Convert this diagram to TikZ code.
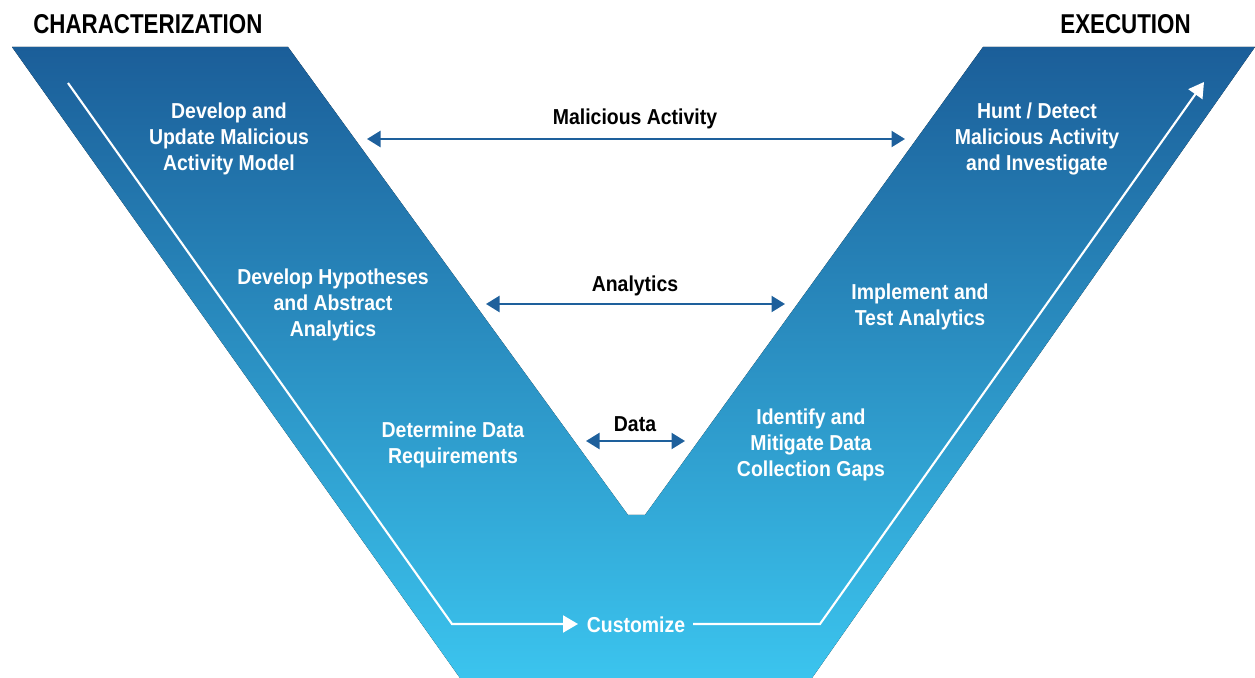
\documentclass[tikz,border=0pt]{standalone}
\usepackage{fontspec}
\setmainfont[FakeStretch=0.82]{Liberation Sans}
\newfontfamily\stepfont[FakeStretch=0.9]{Liberation Sans}
\usetikzlibrary{arrows.meta}
\definecolor{vtop}{RGB}{27,94,153}
\definecolor{vbot}{RGB}{59,196,238}
\definecolor{linkblue}{RGB}{30,96,156}
\tikzset{step text/.style={text=white,inner sep=0pt,align=center,font=\stepfont\bfseries\fontsize{12.3}{14.8}\selectfont}}
\tikzset{link label/.style={text=black,inner sep=0pt,font=\stepfont\bfseries\fontsize{12.3}{14.8}\selectfont}}
\tikzset{phase/.style={text=black,inner sep=0pt,font=\bfseries\fontsize{15.5}{18}\selectfont}}
\tikzset{link/.style={draw=linkblue,line width=1.3pt,{Triangle[length=0.27cm,width=0.32cm]}-{Triangle[length=0.27cm,width=0.32cm]}}}
\tikzset{flow/.style={draw=white,line width=1.2pt}}

\begin{document}
\begin{tikzpicture}[x=0.02cm, y=-0.02cm]
\useasboundingbox (0,0) rectangle (1255,678);

% the V
\fill [top color=vtop, bottom color=vbot]
  (12,47) -- (288,47) -- (628,515) -- (645,515) -- (983,47) -- (1255,47)
  -- (812,678) -- (460,678) -- cycle;

\node [phase, anchor=base west] (char) at (33,34) {CHARACTERIZATION};
\node [phase, anchor=base east] (exec) at (1191,34) {EXECUTION};

\node [step text] (model) at (229,139) {Develop and\\Update Malicious\\Activity Model};
\node [step text] (hypo) at (333,305) {Develop Hypotheses\\and Abstract\\Analytics};
\node [step text] (req) at (453,445) {Determine Data\\Requirements};
\node [step text] (hunt) at (1037,139) {Hunt / Detect\\Malicious Activity\\and Investigate};
\node [step text] (impl) at (920,307) {Implement and\\Test Analytics};
\node [step text] (gaps) at (811,445) {Identify and\\Mitigate Data\\Collection Gaps};

\foreach \n/\t/\ly/\ay/\xl/\xr in {mal/Malicious Activity/119/139/367/905,
    ana/Analytics/286/304/486/785, dat/Data/424/441/586/685}
{
  \node [link label] (\n) at (635,\ly) {\t};
  \coordinate (\n-l) at (\xl,\ay);
  \coordinate (\n-r) at (\xr,\ay);
  \draw [link] (\n-l) -- (\n-r);
}

% white flow line
\node [step text] (cust) at (636,625) {Customize};
\coordinate (start) at (68,83);
\coordinate (low-l) at (452,624);
\coordinate (cust-in) at (578,624);
\coordinate (cust-out) at (693,624);
\coordinate (low-r) at (820,624);
\coordinate (tip) at (1204,82);
\draw [flow, -{Triangle[length=0.3cm,width=0.34cm]}] (start) -- (low-l) -- (cust-in);
\draw [flow, -{Triangle[length=0.3cm,width=0.34cm]}] (cust-out) -- (low-r) -- (tip);
\end{tikzpicture}
\end{document}
